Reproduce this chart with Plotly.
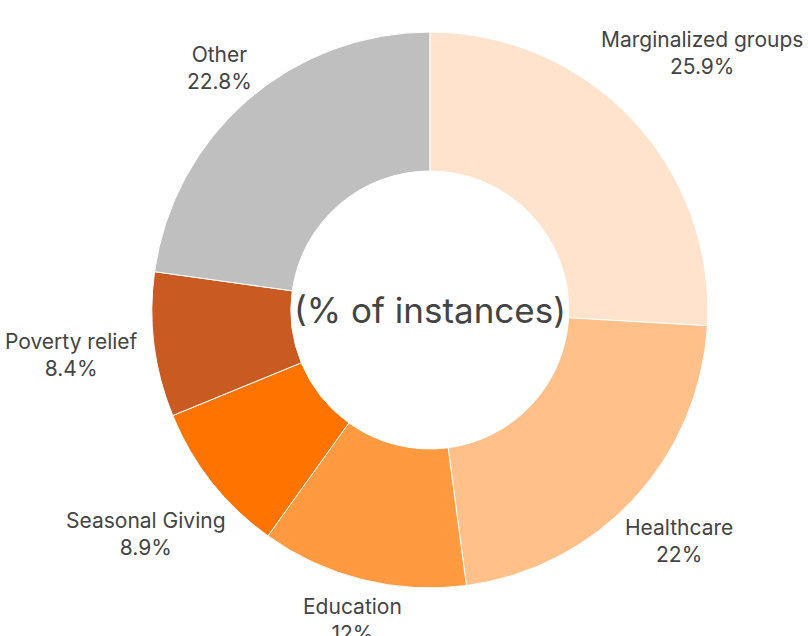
import math
import plotly.graph_objects as go

categories = ["Marginalized groups", "Healthcare", "Education", "Seasonal Giving", "Poverty relief", "Other"]
values = [25.9, 22, 12, 8.9, 8.4, 22.8]
value_labels = ["25.9%", "22%", "12%", "8.9%", "8.4%", "22.8%"]
colors = ["#FFE3CC", "#FFC08A", "#FF9A40", "#FF7300", "#C85A22", "#BFBFBF"]
center_title = "(% of instances)"

W, H = 808, 636
DOM_X = [0.188, 0.876]
DOM_Y = [0.0755, 0.9497]
LABEL_SIZE = 21
TEXT_COLOR = "#444444"
FONT = "Inter"

fig = go.Figure(go.Pie(
    labels=categories,
    values=values,
    textinfo="none",
    hole=0.5,
    sort=False,
    direction="clockwise",
    rotation=0,
    marker=dict(colors=colors, line=dict(color="white", width=1)),
    showlegend=False,
    hoverinfo="label+percent",
    domain=dict(x=DOM_X, y=DOM_Y),
))

# pie geometry (pixels) derived from the domain
cx = W * (DOM_X[0] + DOM_X[1]) / 2
cy = H * (1 - (DOM_Y[0] + DOM_Y[1]) / 2)
R = min(W * (DOM_X[1] - DOM_X[0]), H * (DOM_Y[1] - DOM_Y[0])) / 2

# outside labels, placed radially at each slice's mid-angle
total = sum(values)
cum = 0.0
gap = 6
half_h = 25
for name, v, vl in zip(categories, values, value_labels):
    mid = (cum + v / 2) / total * 2 * math.pi
    cum += v
    dx, dy = math.sin(mid), -math.cos(mid)
    half_w = len(name) * 0.505 * LABEL_SIZE / 2
    d = R + gap + half_w * abs(dx) + half_h * abs(dy)
    px, py = cx + d * dx, cy + d * dy
    fig.add_annotation(
        text=f"{name}<br>{vl}", x=px / W, y=1 - py / H,
        xref="paper", yref="paper", xanchor="center", yanchor="middle",
        showarrow=False, align="center",
        font=dict(family=FONT, size=LABEL_SIZE, color=TEXT_COLOR),
    )

fig.add_annotation(
    text=center_title, x=cx / W, y=1 - cy / H, xref="paper", yref="paper",
    showarrow=False, font=dict(family=FONT, size=35, color=TEXT_COLOR),
)

fig.update_layout(
    width=W, height=H,
    margin=dict(l=0, r=0, t=0, b=0, autoexpand=False),
    paper_bgcolor="white", plot_bgcolor="white",
)

fig.write_html("out.html")
